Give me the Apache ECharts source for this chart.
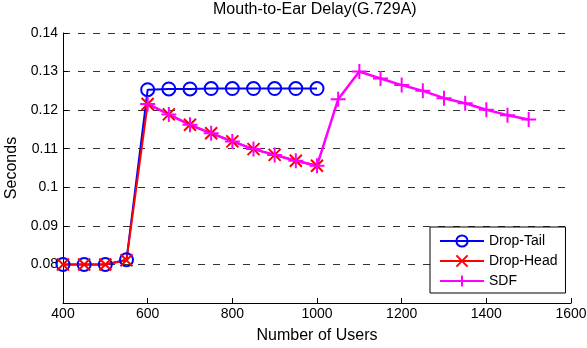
<!DOCTYPE html>
<html>
<head>
<meta charset="utf-8">
<script src="https://cdn.jsdelivr.net/npm/echarts@6/dist/echarts.min.js"></script>
<style>
  html, body { margin: 0; padding: 0; background: #fff; }
  #chart { width: 587px; height: 348px; }
</style>
</head>
<body>
<div id="chart"></div>
<script>
// data
var usersA = [400, 450, 500, 550, 600, 650, 700, 750, 800, 850, 900, 950, 1000];
var dropTail = [0.0800, 0.0800, 0.0800, 0.0812, 0.1253, 0.1255, 0.1255, 0.1256, 0.1256, 0.1256, 0.1256, 0.1256, 0.1256];
var dropHead = [0.0800, 0.0800, 0.0800, 0.0811, 0.1216, 0.1189, 0.1162, 0.1140, 0.1119, 0.1099, 0.1084, 0.1069, 0.1056];
var usersB = [600, 650, 700, 750, 800, 850, 900, 950, 1000, 1050, 1100, 1150, 1200, 1250, 1300, 1350, 1400, 1450, 1500];
var sdf = [0.1216, 0.1189, 0.1162, 0.1140, 0.1119, 0.1099, 0.1084, 0.1069, 0.1056, 0.1228, 0.1300, 0.1282, 0.1265, 0.1250, 0.1231, 0.1218, 0.1201, 0.1187, 0.1176];
var names = ['Drop-Tail', 'Drop-Head', 'SDF'];

function pairs(xs, ys) {
	var out = [];
	for (var i = 0; i < xs.length; i++) out.push([xs[i], ys[i]]);
	return out;
}

var font = 'Liberation Sans, Arial, sans-serif';
var chart = echarts.init(document.getElementById('chart'));

var option = {
	animation: false,
	title: {
		text: 'Mouth-to-Ear Delay(G.729A)',
		left: 213,
		top: 2,
		padding: 0,
		textStyle: { fontFamily: font, fontSize: 16, fontWeight: 'normal', color: '#000' }
	},
	legend: {
		orient: 'vertical',
		left: 430,
		top: 227,
		padding: [7, 8, 5, 9],
		itemGap: 6,
		itemWidth: 44,
		itemHeight: 14,
		borderColor: '#000',
		borderWidth: 1,
		backgroundColor: '#fff',
		textStyle: { fontFamily: font, fontSize: 14, color: '#000' },
		data: names
	},
	grid: { left: 63, right: 16, top: 33, bottom: 45, containLabel: false, outerBoundsMode: 'none' },
	xAxis: {
		type: 'value',
		min: 400, max: 1600, interval: 200,
		name: 'Number of Users',
		nameLocation: 'middle',
		nameGap: 25,
		nameTextStyle: { fontFamily: font, fontSize: 16, color: '#000' },
		axisLine: { lineStyle: { color: '#000', width: 1 } },
		axisTick: { inside: true, length: 5, lineStyle: { color: '#000' } },
		axisLabel: {
			fontFamily: font, fontSize: 14, color: '#000', margin: 4,
			formatter: function (v) { return String(v); }
		},
		splitLine: { show: false }
	},
	yAxis: {
		type: 'value',
		min: 0.07, max: 0.14, interval: 0.01,
		name: 'Seconds',
		nameLocation: 'middle',
		nameGap: 39,
		nameTextStyle: { fontFamily: font, fontSize: 16, color: '#000' },
		axisLine: { show: true, lineStyle: { color: '#000', width: 1 } },
		axisTick: { show: true, inside: true, length: 5, lineStyle: { color: '#000' } },
		axisLabel: {
			fontFamily: font, fontSize: 14, color: '#000', margin: 5,
			formatter: function (v) {
				if (Math.abs(v - 0.07) < 1e-6) return '';
				return String(parseFloat(v.toFixed(2)));
			}
		},
		splitLine: { show: true, lineStyle: { color: '#333', width: 1, type: [7, 8] } }
	},
	series: [
		{
			name: names[0],
			type: 'line',
			data: pairs(usersA, dropTail),
			symbol: 'circle',
			symbolSize: 13,
			lineStyle: { color: '#0000ff', width: 2 },
			itemStyle: { color: 'rgba(0,0,0,0)', borderColor: '#0000ff', borderWidth: 2 }
		},
		{
			name: names[1],
			type: 'line',
			data: pairs(usersA, dropHead),
			symbol: 'path://M0,0L10,10M10,0L0,10',
			symbolSize: 12,
			lineStyle: { color: '#ff0000', width: 2 },
			itemStyle: { color: 'rgba(0,0,0,0)', borderColor: '#ff0000', borderWidth: 2 }
		},
		{
			name: names[2],
			type: 'line',
			data: pairs(usersB, sdf),
			symbol: 'path://M5,0L5,10M0,5L10,5',
			symbolSize: 15,
			lineStyle: { color: '#ff00ff', width: 2.5 },
			itemStyle: { color: 'rgba(0,0,0,0)', borderColor: '#ff00ff', borderWidth: 2 }
		}
	]
};

chart.setOption(option);
</script>
</body>
</html>
